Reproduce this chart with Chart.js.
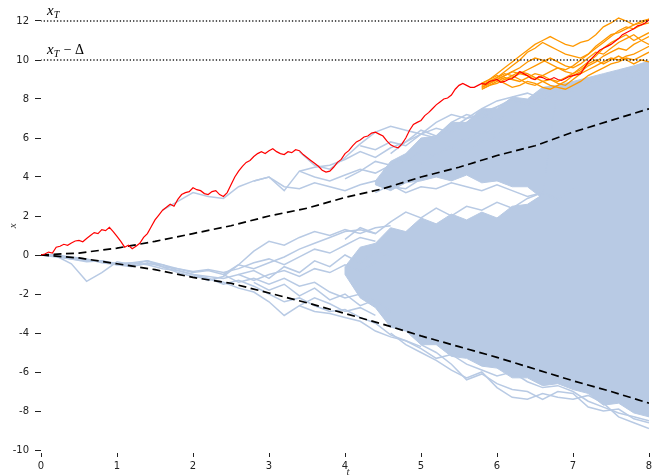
<!DOCTYPE html>
<html>
<head>
<meta charset="utf-8">
<script src="https://cdn.jsdelivr.net/npm/chart.js@4.4.0/dist/chart.umd.min.js"></script>
<style>
  html, body { margin: 0; padding: 0; background: #fff; }
</style>
</head>
<body>
<canvas id="myChart" width="652" height="476"></canvas>
<script>
// levels
var xT = 12;
var delta = 2;

// red path, t = 0 .. 8 step 0.05
var redPath = [0, 0.05, 0.15, 0.1, 0.4, 0.45, 0.55, 0.5, 0.62, 0.72,
  0.75, 0.68, 0.85, 1.0, 1.15, 1.1, 1.3, 1.25, 1.42, 1.2,
  0.95, 0.7, 0.4, 0.5, 0.32, 0.45, 0.6, 0.9, 1.1, 1.45,
  1.8, 2.05, 2.3, 2.45, 2.6, 2.5, 2.85, 3.1, 3.2, 3.25,
  3.45, 3.35, 3.3, 3.15, 3.1, 3.25, 3.3, 3.1, 3.0, 3.2,
  3.6, 4.0, 4.3, 4.55, 4.75, 4.85, 5.05, 5.2, 5.3, 5.2,
  5.35, 5.45, 5.3, 5.2, 5.15, 5.3, 5.25, 5.4, 5.35, 5.15,
  5.0, 4.85, 4.7, 4.55, 4.35, 4.25, 4.3, 4.5, 4.75, 4.9,
  5.2, 5.35, 5.6, 5.8, 5.9, 6.05, 6.1, 6.25, 6.3, 6.2,
  6.1, 5.85, 5.65, 5.55, 5.5, 5.7, 6.0, 6.4, 6.7, 6.8,
  6.9, 7.15, 7.3, 7.5, 7.7, 7.85, 8.0, 8.05, 8.2, 8.5,
  8.7, 8.8, 8.7, 8.6, 8.6, 8.7, 8.8, 8.75, 8.9, 8.95,
  9.0, 8.85, 8.9, 9.0, 9.05, 9.2, 9.4, 9.3, 9.2, 9.05,
  9.0, 9.15, 9.1, 9.0, 9.0, 9.1, 9.0, 8.95, 9.05, 9.15,
  9.2, 9.25, 9.3, 9.6, 9.9, 10.1, 10.3, 10.5, 10.6, 10.7,
  10.8, 10.95, 11.1, 11.3, 11.4, 11.5, 11.6, 11.75, 11.8, 11.9, 12.05];

// orange paths, t = 5.8 .. 8 step 0.1
var orange1 = [8.8, 9.0, 9.3, 9.6, 9.9, 10.2, 10.5, 10.8, 11.0, 11.2, 11.0, 10.8, 10.7, 10.9, 11.0, 11.3, 11.7, 11.9, 12.15, 12.0, 11.8, 11.9, 12.1];
var orange2 = [8.7, 8.9, 9.1, 9.4, 9.7, 10.0, 10.4, 10.6, 10.9, 10.7, 10.5, 10.3, 10.2, 10.1, 10.3, 10.6, 10.9, 11.2, 11.5, 11.7, 11.6, 11.8, 11.9];
var orange3 = [8.6, 8.8, 9.0, 9.2, 9.4, 9.6, 9.9, 10.1, 10.0, 9.8, 9.6, 9.5, 9.7, 10.0, 10.3, 10.7, 11.0, 11.3, 11.4, 11.6, 11.8, 12.0, 12.1];
var orange4 = [8.5, 8.7, 8.9, 9.1, 9.0, 8.9, 9.1, 9.3, 9.2, 9.0, 8.9, 9.1, 9.3, 9.6, 9.9, 10.2, 10.6, 10.9, 11.1, 11.3, 11.0, 11.2, 11.4];
var orange5 = [8.6, 8.8, 9.0, 8.8, 8.6, 8.7, 8.9, 8.8, 8.6, 8.5, 8.7, 8.9, 9.2, 9.4, 9.7, 9.9, 10.2, 10.4, 10.6, 10.5, 10.8, 11.0, 11.2];
var orange6 = [8.7, 8.9, 9.1, 9.3, 9.2, 9.0, 8.8, 8.7, 8.9, 9.0, 8.8, 8.7, 9.0, 9.3, 9.5, 9.7, 9.9, 10.1, 10.0, 10.2, 10.3, 10.5, 10.7];
var orange7 = [8.5, 8.7, 8.8, 9.0, 9.2, 9.4, 9.3, 9.1, 8.9, 8.7, 8.6, 8.5, 8.7, 8.9, 9.2, 9.4, 9.6, 9.8, 9.9, 10.1, 10.0, 10.2, 10.4];
var orange8 = [8.6, 8.8, 9.0, 9.2, 9.4, 9.3, 9.5, 9.7, 9.9, 10.1, 9.9, 9.7, 9.6, 9.8, 10.1, 10.4, 10.3, 10.6, 10.9, 11.1, 11.3, 11.0, 10.8];
var orange9 = [8.8, 9.0, 9.2, 9.0, 9.1, 9.3, 9.2, 9.0, 9.2, 9.4, 9.6, 9.4, 9.3, 9.5, 9.8, 10.0, 9.8, 10.0, 10.2, 10.0, 9.8, 10.0, 9.9];

// dashed curves, t = 0 .. 8 step 0.5
var dashUpper = [0, 0.1, 0.35, 0.7, 1.1, 1.5, 2.0, 2.4, 2.95, 3.4, 4.0, 4.5, 5.1, 5.6, 6.3, 6.9, 7.5];
var dashLower = [0, -0.15, -0.45, -0.75, -1.15, -1.45, -1.95, -2.45, -3.0, -3.55, -4.15, -4.7, -5.25, -5.85, -6.45, -7.0, -7.6];

// dense blue mass, t = 4.0 .. 8 step 0.2
var massTop = [-0.6, 0.4, 0.6, 1.4, 1.2, 1.9, 1.6, 2.1, 1.8, 2.2, 1.9, 2.5, 2.6, 3.1, 8.7, 8.9, 9.1, 9.3, 9.5, 9.7, 9.95];
var massBottom = [-1.0, -2.2, -2.7, -3.7, -3.9, -4.6, -4.6, -5.2, -5.3, -5.7, -5.8, -6.3, -6.3, -6.7, -6.6, -6.9, -7.1, -7.7, -7.6, -8.1, -8.3];
// upper band above the white gap, t = 4.4 .. 6.8 step 0.2
var bandTop = [3.8, 4.8, 5.2, 6.0, 6.1, 6.8, 6.8, 7.5, 7.5, 8.1, 8.0, 8.6, 8.7];
var bandBottom = [3.6, 3.3, 3.7, 3.8, 4.0, 3.8, 4.1, 3.7, 3.8, 3.5, 3.5, 2.9, 2.7];

// single blue paths, step 0.2
var blueUp1 = [2.3, 2.75, 3.2, 3.0, 2.9, 3.5, 3.8, 4.0, 3.3, 4.3, 4.5, 4.6, 4.9, 5.3, 5.0, 5.5, 5.8, 6.2, 6.5, 6.3, 6.8, 7.3, 7.6, 7.9, 7.7, 8.1, 8.4, 8.6, 8.9, 9.2, 9.4, 9.6, 9.8];
var blueUp2 = [4.3, 4.0, 3.8, 4.1, 4.4, 4.2, 4.6, 4.9, 5.3, 5.1, 5.6, 6.0, 6.3, 6.2, 6.5];
var blueUp3 = [3.8, 4.0, 3.5, 3.4, 3.7, 3.5, 3.3, 3.6, 3.8, 3.5, 3.4, 3.9];
var blueUp4 = [5.3, 4.6, 4.4, 5.0, 5.7, 6.3, 6.6, 6.4, 6.2, 6.8, 7.2, 7.0, 7.5, 7.9, 8.1, 8.3, 8.0, 8.4, 8.6];
var blueUp5 = [5.6, 5.4, 5.8, 5.6, 6.2, 6.0, 6.5, 7.0, 7.2, 6.9, 7.3];
var blueUp6 = [3.9, 4.3, 4.8, 4.6, 5.0, 4.7, 5.2, 5.5, 5.3, 5.8, 6.1];
var blueLo1 = [0, -0.05, -0.45, -1.35, -0.9, -0.35, -0.5, -0.3, -0.5, -0.8, -1.0, -1.3, -1.1, -0.5, -0.7, -0.4, -0.1, 0.3, 0.6, 0.9, 1.2, 1.3, 1.1];
var blueLo2 = [0, 0, -0.1, -0.2, -0.4, -0.5, -0.4, -0.3, -0.6, -0.9, -1.1, -1.2, -1.5, -1.3, -1.6, -2.0, -2.4, -2.2, -2.6, -2.9, -2.8, -3.2, -3.5, -4.1, -4.4, -4.7];
var blueLo3 = [0, -0.1, -0.2, -0.3, -0.3, -0.5, -0.6, -0.4, -0.6, -0.7, -0.9, -0.8, -1.0, -1.4, -1.2, -1.5, -1.2, -1.6, -1.4, -1.9, -2.2, -2.0, -2.4];
var blueLo4 = [0, 0, -0.15, -0.25, -0.35, -0.45, -0.55, -0.45, -0.5, -0.7, -0.85, -0.75, -0.9, -0.7, -0.4, -0.2, -0.5, -0.1, 0.3, 0.1, 0.5, 0.9, 0.7];
var blueLo5 = [0, -0.05, -0.2, -0.35, -0.3, -0.45, -0.4, -0.5, -0.7, -0.8, -1.0, -1.1, -1.2, -1.0, -1.3, -1.0, -0.8, -1.1, -0.7, -0.9, -0.5, -0.8, -0.4];
var blueLo6 = [-1.0, -1.2, -1.4, -1.7, -1.9, -2.4, -3.1, -2.6, -2.2, -2.5, -2.9, -2.7, -3.1];
var blueLo7 = [-1.0, -0.5, 0.2, 0.7, 0.5, 0.9, 1.2, 1.0, 1.3, 1.1, 1.4, 1.5];
var blueLo8 = [-1.0, -0.8, -1.2, -0.6, -0.9, -0.3, -0.6, 0.0, -0.4, 0.2, -0.1];
var blueLo9 = [-1.4, -1.8, -1.5, -2.1, -1.7, -2.3, -2.0, -2.6, -2.3, -2.9];
var blueOut1 = [-4.0, -4.6, -5.0, -5.4, -5.9, -6.3, -6.0, -6.8, -7.3, -7.4, -7.1, -7.3, -7.4, -7.2, -7.6, -8.3, -8.6, -8.9];
var blueOut2 = [-4.6, -5.0, -5.6, -6.4, -6.1, -6.6, -6.9, -7.0, -7.4, -7.0, -7.1, -7.8, -8.0, -7.9, -8.4, -8.6];
var blueOut3 = [-2.6, -2.9, -3.0, -3.2, -3.4, -3.9, -4.2, -4.4, -4.8, -5.3, -5.1, -5.6, -5.9, -6.2, -6.0, -6.5, -6.8, -6.7, -7.0, -7.5, -7.8, -8.1, -8.3, -8.5];
var blueEdge1 = [0.8, 1.4, 1.1, 1.7, 2.2, 1.9, 2.4, 2.0, 2.5, 2.3, 2.7, 2.4, 2.9, 3.2, 2.9, 3.4];
var blueEdge2 = [3.2, 3.6, 3.2, 3.5, 3.4, 3.7, 3.5, 3.3, 3.6, 3.3, 3.0, 3.2, 2.8];
var blueEdge3 = [5.2, 5.8, 6.4, 6.1, 6.8, 7.2, 7.0, 7.6, 8.0, 7.8, 8.3, 8.6, 8.4, 8.8, 9.0, 9.3, 9.1, 9.5];

// start times of the single blue paths
var blueStarts = [
  [1.6, blueUp1], [3.4, blueUp2], [2.8, blueUp3], [3.4, blueUp4], [4.2, blueUp5], [4.0, blueUp6],
  [0, blueLo1], [0, blueLo2], [0, blueLo3], [0, blueLo4], [0, blueLo5], [2.0, blueLo6], [2.4, blueLo7],
  [2.6, blueLo8], [2.8, blueLo9],
  [4.6, blueOut1], [5.0, blueOut2], [3.4, blueOut3],
  [4.0, blueEdge1], [4.4, blueEdge2], [4.6, blueEdge3]
];
var oranges = [orange1, orange2, orange3, orange4, orange5, orange6, orange7, orange8, orange9];

var blue = 'rgb(184,202,228)';

function pts(t0, dt, vals) {
  return vals.map(function (v, i) { return { x: +(t0 + i * dt).toFixed(3), y: v }; });
}
function poly(t0, dt, top, bottom) {
  var a = pts(t0, dt, top);
  var b = pts(t0, dt, bottom).reverse();
  return a.concat(b, [a[0]]);
}

var datasets = [];

// dotted levels
[xT, xT - delta].forEach(function (lv) {
  datasets.push({
    data: [{ x: 0, y: lv }, { x: 8, y: lv }],
    borderColor: '#000', borderWidth: 1.6, borderDash: [0.01, 3.3], borderCapStyle: 'round', order: 0
  });
});

datasets.push({ data: pts(0, 0.05, redPath), borderColor: '#ff0000', borderWidth: 1.2, order: 1 });

oranges.forEach(function (o) {
  datasets.push({ data: pts(5.8, 0.1, o), borderColor: '#ff9800', borderWidth: 1.3, order: 2 });
});

datasets.push({ data: pts(0, 0.5, dashUpper), borderColor: '#000', borderWidth: 1.7, borderDash: [8, 4.5], order: 3 });
datasets.push({ data: pts(0, 0.5, dashLower), borderColor: '#000', borderWidth: 1.7, borderDash: [8, 4.5], order: 3 });

blueStarts.forEach(function (b) {
  datasets.push({ data: pts(b[0], 0.2, b[1]), borderColor: blue, borderWidth: 1.5, order: 4 });
});

datasets.push({ data: poly(4.0, 0.2, massTop, massBottom), borderColor: blue, backgroundColor: blue, borderWidth: 1, fill: 'shape', order: 5 });
datasets.push({ data: poly(4.4, 0.2, bandTop, bandBottom), borderColor: blue, backgroundColor: blue, borderWidth: 1, fill: 'shape', order: 5 });

datasets.forEach(function (d) { d.showLine = true; d.pointRadius = 0; d.tension = 0; });

var textPlugin = {
  id: 'mathText',
  afterDraw: function (chart) {
    var ctx = chart.ctx, x = chart.scales.x, y = chart.scales.y;
    ctx.save();
    ctx.fillStyle = '#000';
    ctx.textBaseline = 'alphabetic';
    ctx.textAlign = 'left';
    [[xT, ''], [xT - delta, ' \u2212 \u0394']].forEach(function (l) {
      var px = x.getPixelForValue(0) + 6;
      var py = y.getPixelForValue(l[0]) - 6;
      ctx.font = 'italic 15px "Liberation Serif"';
      ctx.fillText('x', px, py);
      var w = ctx.measureText('x').width;
      ctx.font = 'italic 10px "Liberation Serif"';
      ctx.fillText('T', px + w, py + 3);
      var w2 = ctx.measureText('T').width;
      if (l[1]) {
        ctx.font = '14px "Liberation Serif"';
        ctx.fillText(l[1], px + w + w2 + 1, py);
      }
    });
    // axis titles
    ctx.font = 'italic 11px "Liberation Serif"';
    ctx.textAlign = 'center';
    ctx.fillStyle = '#333';
    ctx.fillText('t', (chart.chartArea.left + chart.chartArea.right) / 2 + 3, 475);
    ctx.translate(16, (chart.chartArea.top + chart.chartArea.bottom) / 2);
    ctx.rotate(-Math.PI / 2);
    ctx.fillText('x', 0, 0);
    ctx.restore();
  }
};

new Chart(document.getElementById('myChart').getContext('2d'), {
  type: 'scatter',
  data: { datasets: datasets },
  plugins: [textPlugin],
  options: {
    responsive: false,
    animation: false,
    events: [],
    layout: { padding: { top: 1.5, right: 3, bottom: 0, left: 0 } },
    plugins: { legend: { display: false }, tooltip: { enabled: false } },
    scales: {
      x: {
        type: 'linear', min: 0, max: 8,
        ticks: { stepSize: 1, color: '#222', font: { family: 'DejaVu Sans', size: 10 }, padding: 3, maxRotation: 0 },
        grid: { drawOnChartArea: false, tickLength: 7, tickColor: '#222', tickBorderDash: [0, 3, 4, 20] },
        border: { display: false },
        afterFit: function (s) { s.height = 26; s.paddingLeft = 0; s.paddingRight = 0; }
      },
      y: {
        type: 'linear', min: -10, max: 13,
        ticks: { stepSize: 2, color: '#222', font: { family: 'DejaVu Sans', size: 10 }, padding: 6 },
        afterBuildTicks: function (s) { s.ticks = s.ticks.filter(function (t) { return t.value <= 12; }); },
        grid: { drawOnChartArea: false, tickLength: 6, tickColor: '#222' },
        border: { display: false },
        afterFit: function (s) { s.width = 41; s.paddingTop = 0; s.paddingBottom = 0; }
      }
    }
  }
});
</script>
</body>
</html>
